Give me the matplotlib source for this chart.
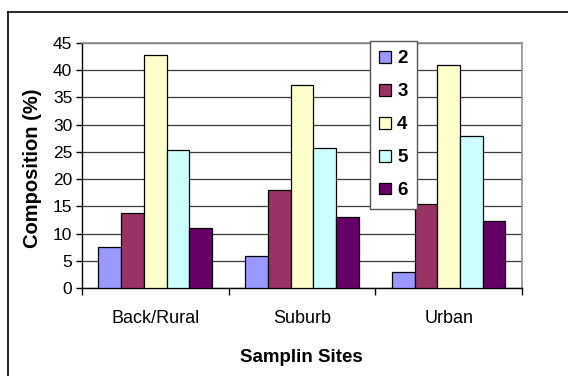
import numpy as np
import matplotlib
matplotlib.use("Agg")
import matplotlib.pyplot as plt
from matplotlib.lines import Line2D

plt.rcParams['font.family'] = ['Liberation Sans', 'DejaVu Sans']

sites = ["Back/Rural", "Suburb", "Urban"]
series_names = ["2", "3", "4", "5", "6"]
s2 = [7.5, 5.8, 3.0]
s3 = [13.8, 18.0, 15.5]
s4 = [42.8, 37.3, 41.0]
s5 = [25.3, 25.8, 28.0]
s6 = [11.0, 13.0, 12.3]
colors = ["#9999FF", "#993366", "#FFFFCC", "#CCFFFF", "#660066"]
y_ticks = [0, 5, 10, 15, 20, 25, 30, 35, 40, 45]

W, H = 568, 376
fig = plt.figure(figsize=(W / 100, H / 100), dpi=100)
ax = fig.add_axes([82 / W, 1 - 288 / H, 440 / W, 245 / H])

series = [s2, s3, s4, s5, s6]
x = np.arange(len(sites))
n = len(series)
group = 0.775
bw = group / n
for i, (vals, name, c) in enumerate(zip(series, series_names, colors)):
    ax.bar(x - group / 2 + bw * (i + 0.5), vals, width=bw, color=c,
           edgecolor="black", linewidth=0.9, label=name, zorder=3)

ax.set_xlim(-0.5, len(sites) - 0.5)
ax.set_ylim(0, 45)
ax.set_yticks(y_ticks)
ax.yaxis.grid(True, color="#3a3a3a", linewidth=0.9, zorder=0)
ax.set_axisbelow(True)

# category ticks sit between groups, labels at group centres
ax.set_xticks(np.arange(len(sites) + 1) - 0.5)
ax.set_xticklabels([])
ax.set_xticks(x, minor=True)
ax.set_xticklabels(sites, minor=True, fontsize=13)
ax.tick_params(axis="x", which="major", direction="out", length=5, width=1, color="black")
ax.tick_params(axis="x", which="minor", length=0, pad=16)
ax.tick_params(axis="y", direction="out", length=4, width=1, labelsize=12.5, pad=3)

for side in ("top", "right"):
    ax.spines[side].set_color("#909090")
    ax.spines[side].set_linewidth(1.2)
for side in ("left", "bottom"):
    ax.spines[side].set_color("black")
    ax.spines[side].set_linewidth(1.0)

fig.text(33 / W, 1 - 168 / H, "Composition (%)", rotation=90, ha="center", va="center",
         fontsize=14.5, fontweight="bold")
fig.text(301 / W, 1 - 358 / H, "Samplin Sites", ha="center", va="center",
         fontsize=13.5, fontweight="bold")

leg = ax.legend(loc="upper left", bbox_to_anchor=(370 / W, 1 - 41 / H),
                bbox_transform=fig.transFigure, borderaxespad=0, fancybox=False,
                framealpha=1, edgecolor="#555555", handlelength=0.6, handleheight=0.6,
                handletextpad=0.35, labelspacing=0.85, borderpad=0.5,
                prop={"weight": "bold", "size": 13.5})
leg.get_frame().set_linewidth(1.0)
leg.set_zorder(5)

# outer chart frame (left and top edges)
fig.add_artist(Line2D([8 / W, 8 / W], [0, 1 - 12 / H], color="black", linewidth=1.2,
                      transform=fig.transFigure))
fig.add_artist(Line2D([8 / W, 1], [1 - 12 / H, 1 - 12 / H], color="black", linewidth=1.2,
                      transform=fig.transFigure))

fig.savefig("out.png", dpi=100)
